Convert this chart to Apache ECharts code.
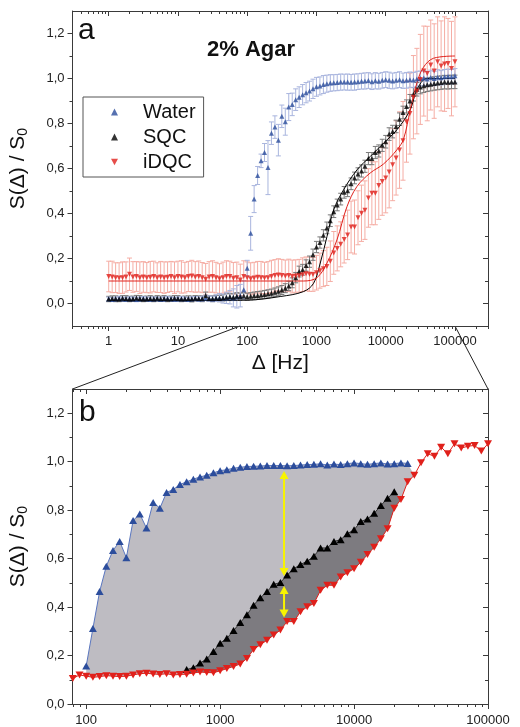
<!DOCTYPE html>
<html><head><meta charset="utf-8">
<script src="https://cdn.jsdelivr.net/npm/echarts@6/dist/echarts.min.js"></script>
<style>html,body{margin:0;padding:0;background:#fff}#c{width:520px;height:727px}</style>
</head><body><div id="c"></div>
<script>
// ---------- data ----------
const deltaHz = [1,1.122,1.259,1.413,1.585,1.778,1.995,2.239,2.512,2.818,3.162,3.548,3.981,4.467,5.012,5.623,6.31,7.079,7.943,8.913,
 10,11.22,12.59,14.13,15.85,17.78,19.95,22.39,25.12,28.18,31.62,35.48,39.81,44.67,50.12,56.23,63.1,70.79,79.43,89.13,
 100,112.2,125.9,141.3,158.5,177.8,199.5,223.9,251.2,281.8,316.2,354.8,398.1,446.7,501.2,562.3,631,707.9,794.3,891.3,
 1000,1122,1259,1413,1585,1778,1995,2239,2512,2818,3162,3548,3981,4467,5012,5623,6310,7079,7943,8913,
 10000,11220,12589,14125,15849,17783,19953,22387,25119,28184,31623,35481,39811,44668,50119,56234,63096,70795,79433,89125,100000];

const water = [0.02,0.018,0.02,0.022,0.02,0.019,0.021,0.02,0.018,0.02,
 0.022,0.02,0.019,0.02,0.021,0.018,0.02,0.022,0.02,0.019,
 0.02,0.021,0.02,0.018,0.02,0.022,0.02,0.021,0.025,0.022,
 0.02,0.024,0.026,0.022,0.025,0.028,0.025,0.03,0.035,0.061,
 0.157,0.312,0.464,0.569,0.634,0.671,0.604,0.757,0.784,0.726,
 0.832,0.808,0.873,0.885,0.906,0.917,0.928,0.937,0.944,0.954,
 0.963,0.967,0.973,0.977,0.98,0.981,0.982,0.984,0.984,0.984,
 0.983,0.984,0.986,0.988,0.989,0.991,0.986,0.99,0.988,0.992,
 0.995,0.992,0.989,0.992,0.995,0.99,0.992,0.995,0.993,0.998,
 1.0,1.002,0.998,1.004,1.0,1.006,1.003,1.008,1.01,1.008,1.012];
const waterErr = [0.008,0.009,0.008,0.01,0.008,0.009,0.008,0.009,0.01,0.008,
 0.009,0.008,0.01,0.009,0.008,0.009,0.01,0.008,0.009,0.008,
 0.009,0.01,0.008,0.009,0.01,0.009,0.01,0.011,0.012,0.012,
 0.012,0.015,0.018,0.02,0.025,0.03,0.04,0.05,0.05,0.04,
 0.035,0.075,0.06,0.04,0.03,0.04,0.12,0.05,0.05,0.07,
 0.05,0.06,0.06,0.05,0.048,0.046,0.045,0.045,0.044,0.043,
 0.042,0.04,0.04,0.038,0.037,0.036,0.036,0.036,0.035,0.036,
 0.035,0.036,0.035,0.035,0.036,0.035,0.035,0.036,0.035,0.035,
 0.035,0.036,0.035,0.035,0.035,0.034,0.035,0.034,0.034,0.034,
 0.033,0.034,0.033,0.033,0.032,0.033,0.032,0.032,0.032,0.032,0.032];

const sqc = [0.02,0.022,0.021,0.02,0.023,0.022,0.02,0.021,0.024,0.022,
 0.02,0.021,0.022,0.02,0.023,0.021,0.022,0.02,0.021,0.023,
 0.022,0.02,0.021,0.022,0.02,0.023,0.022,0.021,0.036,0.022,
 0.021,0.023,0.022,0.025,0.028,0.03,0.028,0.032,0.03,0.033,
 0.03,0.032,0.034,0.036,0.038,0.04,0.043,0.046,0.05,0.055,
 0.06,0.068,0.078,0.092,0.115,0.142,0.15,0.169,0.186,0.217,
 0.251,0.271,0.303,0.336,0.368,0.408,0.438,0.464,0.494,0.501,
 0.532,0.558,0.576,0.589,0.61,0.644,0.644,0.671,0.678,0.703,
 0.719,0.753,0.764,0.787,0.819,0.849,0.876,0.9,0.93,0.952,
 0.962,0.968,0.972,0.975,0.978,0.98,0.982,0.984,0.983,0.985,0.985];
const sqcErr = [0.012,0.012,0.013,0.012,0.012,0.013,0.012,0.012,0.012,0.013,
 0.012,0.012,0.013,0.012,0.012,0.012,0.013,0.012,0.012,0.012,
 0.013,0.012,0.012,0.012,0.013,0.012,0.012,0.013,0.015,0.013,
 0.013,0.013,0.014,0.014,0.015,0.015,0.015,0.016,0.016,0.016,
 0.016,0.016,0.017,0.017,0.017,0.018,0.018,0.018,0.019,0.019,
 0.02,0.02,0.021,0.022,0.023,0.024,0.024,0.025,0.025,0.025,
 0.025,0.025,0.025,0.026,0.026,0.026,0.026,0.026,0.026,0.026,
 0.026,0.026,0.027,0.027,0.027,0.027,0.027,0.027,0.027,0.027,
 0.028,0.028,0.028,0.028,0.028,0.028,0.029,0.029,0.03,0.03,
 0.03,0.03,0.03,0.03,0.03,0.03,0.03,0.03,0.03,0.03,0.03];

const idqc = [0.12,0.118,0.115,0.113,0.115,0.118,0.13,0.118,0.12,0.115,
 0.118,0.115,0.117,0.12,0.115,0.118,0.115,0.117,0.12,0.115,
 0.12,0.118,0.115,0.12,0.122,0.118,0.12,0.115,0.108,0.118,
 0.12,0.115,0.11,0.115,0.12,0.12,0.112,0.115,0.105,0.12,
 0.115,0.11,0.113,0.117,0.115,0.113,0.115,0.12,0.125,0.127,
 0.124,0.122,0.125,0.12,0.122,0.123,0.128,0.132,0.13,0.129,
 0.137,0.146,0.155,0.165,0.188,0.225,0.245,0.263,0.285,0.305,
 0.34,0.34,0.381,0.401,0.415,0.469,0.49,0.49,0.524,0.542,
 0.558,0.585,0.617,0.647,0.682,0.723,0.808,0.844,0.917,0.944,
 0.996,1.033,1.022,1.06,1.033,1.074,1.056,1.064,1.067,1.044,1.074];
const idqcErr = [0.068,0.07,0.066,0.068,0.07,0.067,0.072,0.068,0.066,0.07,
 0.068,0.067,0.07,0.068,0.066,0.069,0.07,0.068,0.067,0.07,
 0.068,0.072,0.068,0.067,0.07,0.068,0.069,0.067,0.07,0.068,
 0.07,0.068,0.067,0.069,0.07,0.068,0.07,0.069,0.07,0.07,
 0.07,0.071,0.07,0.07,0.072,0.07,0.071,0.072,0.07,0.072,
 0.072,0.071,0.072,0.073,0.072,0.073,0.075,0.075,0.076,0.075,
 0.077,0.078,0.08,0.085,0.09,0.095,0.1,0.1,0.105,0.11,
 0.115,0.12,0.12,0.125,0.13,0.13,0.14,0.14,0.15,0.15,
 0.155,0.16,0.16,0.165,0.17,0.175,0.18,0.18,0.185,0.19,
 0.2,0.2,0.21,0.2,0.21,0.2,0.2,0.21,0.2,0.21,0.2];

// fitted curves (panel a)
const sqcFitHz = [1,100,300,650,910,1135,1420,1770,2460,3850,5970,9330,14500,22600,28200,39300,60000,100000];
const sqcFit   = [0.012,0.015,0.031,0.053,0.09,0.18,0.298,0.416,0.505,0.594,0.653,0.713,0.772,0.861,0.95,1.0,1.0,1.0];
const idqcFitHz = [1,650,1017,1418,1977,2755,3843,5970,9290,14500,18070,22580,28200,35100,49000,100000];
const idqcFit   = [0.1,0.1,0.115,0.18,0.283,0.43,0.52,0.58,0.62,0.683,0.73,0.86,0.98,1.05,1.09,1.1];

// panel b: index ranges of the shown points
const waterRangeB = [40, 88];
const sqcRangeB = [55, 86];
const idqcRangeB = [38, 100];
const darkLowerEnd = 87;
// yellow arrows (panel b): [Δ, from, to]
const arrowHz = 3000;
const arrowUpper = [0.528, 0.962];
const arrowLower = [0.357, 0.487];

// tick labels
const xLabelsA = [1,10,100,1000,10000,100000];
const xLabelsB = [100,1000,10000,100000];
const yLabelsA = [0,0.2,0.4,0.6,0.8,1.0,1.2];
const yLabelsB = [0,0.2,0.4,0.6,0.8,1.0,1.2];
const yMinor = [0.1,0.3,0.5,0.7,0.9,1.1];
const aMin = 0.3, aMax = 300000, bMin = 79, bMax = 100000;

// ---------- chart ----------
const FONT = 'Liberation Sans, Arial, sans-serif';
const AX = '#3a3a3a';
const C = {blue:'#2c4d9c', blueLine:'#5a76bf', blueErr:'#a9b5de', red:'#e0201b', redErr:'#f5ada4', black:'#000', blackErr:'#7a7a7a', light:'#bebcc2', dark:'#7d7b80', yellow:'#f8f400'};

function minors(lo, hi){ const r=[]; for(let e=-1;e<=5;e++){ for(let m=2;m<=9;m++){ const v=m*Math.pow(10,e); if(v>=lo*0.999 && v<=hi*1.001) r.push(v);} } return r; }
function range(a,b){ const r=[]; for(let i=a;i<=b;i++) r.push(i); return r; }
const yFmt = v => v.toFixed(1).replace('.', ',');

function xAx(gi, min, max, pos, ticks, len, line, labels, extra){
  return Object.assign({
    type:'log', logBase:10, gridIndex:gi, min, max, position:pos,
    axisLine:{show:line, onZero:false, lineStyle:{color:AX, width:1}},
    axisTick:{show:true, inside: pos==='top', length:len, customValues:ticks, lineStyle:{color:AX, width:1}},
    axisLabel: labels ? {show:true, customValues:labels, margin:9, fontSize:13, color:'#222', fontFamily:FONT, formatter:v=>String(Math.round(v))} : {show:false},
    splitLine:{show:false}, minorTick:{show:false}
  }, extra||{});
}
function yAx(gi, min, max, pos, ticks, len, line, labels, extra){
  return Object.assign({
    type:'value', gridIndex:gi, min, max, position:pos,
    axisLine:{show:line, onZero:false, lineStyle:{color:AX, width:1}},
    axisTick:{show:true, inside: pos==='right', length:len, customValues:ticks, lineStyle:{color:AX, width:1}},
    axisLabel: labels ? {show:true, customValues:labels, margin:8, fontSize:13, color:'#222', fontFamily:FONT, formatter:yFmt} : {show:false},
    splitLine:{show:false}, minorTick:{show:false}
  }, extra||{});
}
const yName = {
  name:'{t|S(Δ) / S}{s|0}', nameLocation:'middle', nameGap:42, nameRotate:90,
  nameTextStyle:{color:'#111', fontFamily:FONT, rich:{t:{fontSize:21, fontFamily:FONT, color:'#111'}, s:{fontSize:14, fontFamily:FONT, color:'#111', padding:[10,0,0,0]}}}
};

const xAxis = [
  xAx(0,aMin,aMax,'bottom',xLabelsA,5,true,xLabelsA,{name:'Δ [Hz]', nameLocation:'middle', nameGap:27, nameTextStyle:{fontSize:21, fontFamily:FONT, color:'#111'}}),
  xAx(0,aMin,aMax,'bottom',minors(aMin,aMax),3,false,null),
  xAx(0,aMin,aMax,'top',xLabelsA,5,true,null),
  xAx(0,aMin,aMax,'top',minors(aMin,aMax),3,false,null),
  xAx(1,bMin,bMax,'bottom',xLabelsB,5,true,xLabelsB,{axisLabel:{show:true, customValues:xLabelsB, margin:10, fontSize:13, color:'#222', fontFamily:FONT, formatter:v=>String(Math.round(v))}}),
  xAx(1,bMin,bMax,'bottom',minors(bMin,bMax),3,false,null),
  xAx(1,bMin,bMax,'top',xLabelsB,5,true,null),
  xAx(1,bMin,bMax,'top',minors(bMin,bMax),3,false,null)
];
const yAxis = [
  yAx(0,-0.1,1.3,'left',yLabelsA,5,true,yLabelsA,yName),
  yAx(0,-0.1,1.3,'left',yMinor,3,false,null),
  yAx(0,-0.1,1.3,'right',yLabelsA,5,true,null),
  yAx(0,-0.1,1.3,'right',yMinor,3,false,null),
  yAx(1,0,1.3,'left',yLabelsB,5,true,yLabelsB,yName),
  yAx(1,0,1.3,'left',yMinor,3,false,null),
  yAx(1,0,1.3,'right',yLabelsB,5,true,null),
  yAx(1,0,1.3,'right',yMinor,3,false,null)
];

function errRender(color){
  return function(params, api){
    const x=api.value(0), y=api.value(1), e=api.value(2);
    const t=api.coord([x,y+e]), b=api.coord([x,y-e]); const w=2.5;
    const st={stroke:color, lineWidth:1};
    return {type:'group', silent:true, children:[
      {type:'line', shape:{x1:t[0],y1:t[1],x2:b[0],y2:b[1]}, style:st},
      {type:'line', shape:{x1:t[0]-w,y1:t[1],x2:t[0]+w,y2:t[1]}, style:st},
      {type:'line', shape:{x1:b[0]-w,y1:b[1],x2:b[0]+w,y2:b[1]}, style:st}]};
  };
}
function errSeries(vals, errs, color){
  return {type:'custom', xAxisIndex:0, yAxisIndex:0, renderItem:errRender(color), silent:true, z:1,
    data: deltaHz.map((d,i)=>[d, vals[i], errs[i]])};
}
function polySeries(upArr, upIdx, loArr, loIdx, color){
  return {type:'custom', xAxisIndex:4, yAxisIndex:4, silent:true, z:1,
    data:[[deltaHz[upIdx[0]], upArr[upIdx[0]]]],
    renderItem:function(params, api){
      const pts=[];
      upIdx.forEach(i=>pts.push(api.coord([deltaHz[i], upArr[i]])));
      loIdx.slice().reverse().forEach(i=>pts.push(api.coord([deltaHz[i], loArr[i]])));
      return {type:'polygon', shape:{points:pts}, style:{fill:color}};
    }};
}
function arrowRender(params, api){
  const x=api.value(0), y1=api.value(1), y2=api.value(2);
  const a=api.coord([x,y1]), b=api.coord([x,y2]);
  const h=8, w=4.5;
  const st={fill:C.yellow};
  return {type:'group', silent:true, children:[
    {type:'line', shape:{x1:a[0],y1:a[1]-h+1,x2:b[0],y2:b[1]+h-1}, style:{stroke:C.yellow, lineWidth:2}},
    {type:'polygon', shape:{points:[[b[0],b[1]],[b[0]-w,b[1]+h],[b[0]+w,b[1]+h]]}, style:st},
    {type:'polygon', shape:{points:[[a[0],a[1]],[a[0]-w,a[1]-h],[a[0]+w,a[1]-h]]}, style:st}]};
}
function bLine(name, vals, rng, color, lineColor, sym, rot){
  return {type:'line', name, xAxisIndex:4, yAxisIndex:4, z:3,
    data: range(rng[0], rng[1]).map(i=>[deltaHz[i], vals[i]]),
    symbol:sym, symbolRotate:rot||0, symbolSize:[8,7], showSymbol:true,
    itemStyle:{color, borderWidth:0}, lineStyle:{color:lineColor, width:1}, emphasis:{disabled:true}};
}

const series = [
  errSeries(idqc, idqcErr, C.redErr),
  errSeries(sqc, sqcErr, C.blackErr),
  errSeries(water, waterErr, C.blueErr),
  {type:'line', xAxisIndex:0, yAxisIndex:0, data:sqcFitHz.map((d,i)=>[d, sqcFit[i]]), showSymbol:false, smooth:0.35, lineStyle:{color:'#000', width:1}, z:2},
  {type:'line', xAxisIndex:0, yAxisIndex:0, data:idqcFitHz.map((d,i)=>[d, idqcFit[i]]), showSymbol:false, smooth:0.35, lineStyle:{color:C.red, width:1}, z:2},
  {type:'scatter', name:'Water', xAxisIndex:0, yAxisIndex:0, symbol:'triangle', symbolSize:5, itemStyle:{color:C.blue}, data:deltaHz.map((d,i)=>[d, water[i]]), z:3},
  {type:'scatter', name:'SQC', xAxisIndex:0, yAxisIndex:0, symbol:'triangle', symbolSize:5, itemStyle:{color:C.black}, data:deltaHz.map((d,i)=>[d, sqc[i]]), z:3},
  {type:'scatter', name:'iDQC', xAxisIndex:0, yAxisIndex:0, symbol:'triangle', symbolRotate:180, symbolSize:5, itemStyle:{color:C.red}, data:deltaHz.map((d,i)=>[d, idqc[i]]), z:3},
  // panel b
  polySeries(water, range(waterRangeB[0], waterRangeB[1]), idqc, range(waterRangeB[0], waterRangeB[1]+1), C.light),
  polySeries(sqc, range(sqcRangeB[0], sqcRangeB[1]), idqc, range(sqcRangeB[0], darkLowerEnd), C.dark),
  bLine('Water b', water, waterRangeB, C.blue, C.blueLine, 'triangle'),
  bLine('SQC b', sqc, sqcRangeB, C.black, '#333', 'triangle'),
  bLine('iDQC b', idqc, idqcRangeB, C.red, C.red, 'triangle', 180),
  {type:'custom', xAxisIndex:4, yAxisIndex:4, z:4, silent:true, renderItem:arrowRender,
    data:[[arrowHz, arrowUpper[0], arrowUpper[1]], [arrowHz, arrowLower[0], arrowLower[1]]]}
];

const chart = echarts.init(document.getElementById('c'), null, {renderer:'canvas'});
chart.setOption({
  animation:false, backgroundColor:'#fff',
  textStyle:{fontFamily:FONT},
  grid:[{left:72, top:11, width:416, height:315}, {left:72, top:389, width:416, height:316}],
  title:[
    {text:'a', left:78, top:16, padding:0, textStyle:{fontSize:30, fontWeight:'normal', fontFamily:FONT, color:'#111'}},
    {text:'2% Agar', left:207, top:39, padding:0, textStyle:{fontSize:22, fontWeight:'bold', fontFamily:FONT, color:'#111'}},
    {text:'b', left:79, top:398, padding:0, textStyle:{fontSize:30, fontWeight:'normal', fontFamily:FONT, color:'#111'}}
  ],
  legend:{
    data:[{name:'Water', icon:'triangle'}, {name:'SQC', icon:'triangle'}, {name:'iDQC', icon:'path://M0,0L10,0L5,9Z'}],
    orient:'vertical', left:83, top:97, itemWidth:7, itemHeight:7, itemGap:5,
    padding:[5,8,5,28], borderColor:'#555', borderWidth:1, selectedMode:false,
    textStyle:{fontSize:20, lineHeight:20, fontFamily:FONT, color:'#111', padding:[0,0,0,20]}
  },
  xAxis, yAxis, series
});

const pa1 = chart.convertToPixel({xAxisIndex:0, yAxisIndex:0}, [bMin, -0.1]);
const pa2 = chart.convertToPixel({xAxisIndex:0, yAxisIndex:0}, [bMax, -0.1]);
const pb1 = chart.convertToPixel({xAxisIndex:4, yAxisIndex:4}, [bMin, 1.3]);
const pb2 = chart.convertToPixel({xAxisIndex:4, yAxisIndex:4}, [bMax, 1.3]);
chart.setOption({graphic:[
  {type:'line', silent:true, shape:{x1:pa1[0], y1:pa1[1], x2:pb1[0], y2:pb1[1]}, style:{stroke:'#222', lineWidth:1}},
  {type:'line', silent:true, shape:{x1:pa2[0], y1:pa2[1], x2:pb2[0], y2:pb2[1]}, style:{stroke:'#222', lineWidth:1}}
]});
</script></body></html>
